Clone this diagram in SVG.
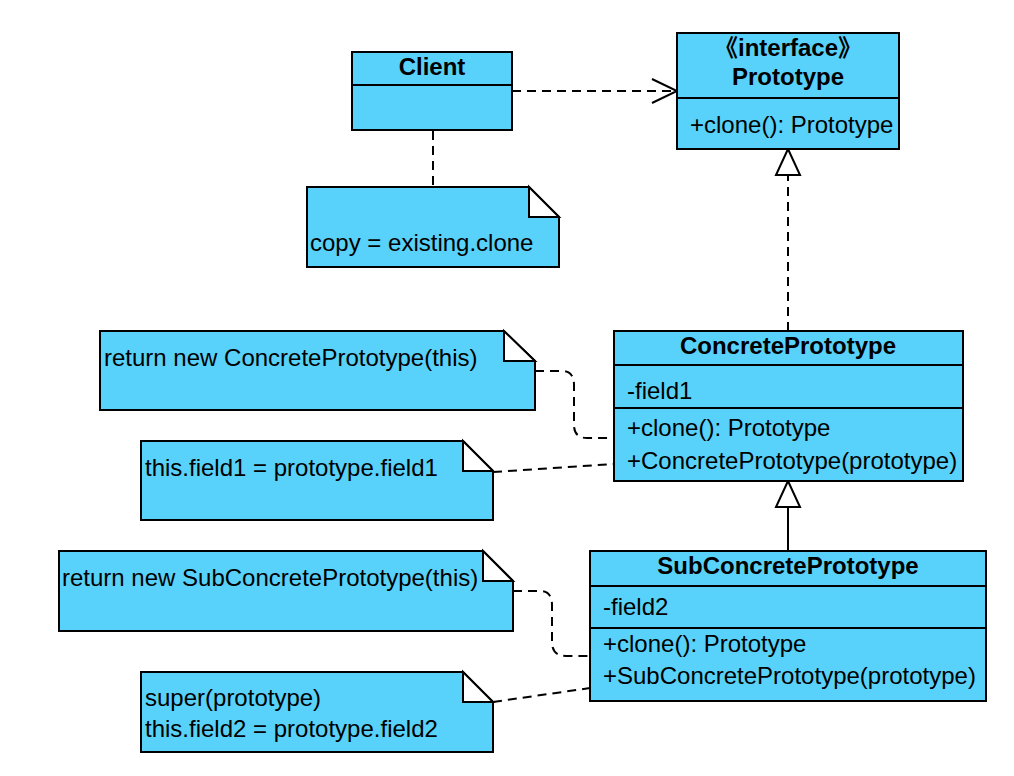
<svg xmlns="http://www.w3.org/2000/svg" width="1014" height="776" viewBox="0 0 1014 776">
<style>
.box{fill:#58d2fa;stroke:#000;stroke-width:2}
.fold{fill:#fff;stroke:#000;stroke-width:2;stroke-linejoin:miter}
.t{font-family:"Liberation Sans",Arial,"Noto Sans CJK SC",sans-serif;font-size:24px;fill:#000}
.b{font-weight:bold}
.c{text-anchor:middle}
.dash{fill:none;stroke:#000;stroke-width:2;stroke-dasharray:9 6}
.solid{fill:none;stroke:#000;stroke-width:2}
.tri{fill:#fff;stroke:#000;stroke-width:2}
</style>
<rect width="1014" height="776" fill="#fff"/>
<g id="connectors">
  <path class="dash" d="M512 91 H677"/>
  <path class="solid" d="M652 79 L677 91 L652 103"/>
  <path class="dash" d="M433 131 V186"/>
  <path class="dash" d="M788 331 V175"/>
  <path class="tri" d="M788 149 L800 175 L776 175 Z"/>
  <path class="solid" d="M788 551 V507"/>
  <path class="tri" d="M788 481 L800 507 L776 507 Z"/>
  <path class="dash" d="M535 371 H562 Q574 371 574 385 V425 Q574 438 587 438 H613"/>
  <path class="dash" d="M493 472 L613 464"/>
  <path class="dash" d="M513 591 H540 Q552 591 552 605 V642 Q552 656 566 656 H590"/>
  <path class="dash" d="M493 702 L590 688"/>
</g>
<g id="client">
  <rect class="box" x="352" y="52" width="160" height="78"/>
  <line x1="352" y1="85" x2="512" y2="85" stroke="#000" stroke-width="2"/>
  <text class="t b c" x="432" y="75">Client</text>
</g>
<g id="prototype">
  <rect class="box" x="677" y="33" width="222" height="116"/>
  <line x1="677" y1="98" x2="899" y2="98" stroke="#000" stroke-width="2"/>
  <text class="t b c" x="788" y="56">《interface》</text>
  <text class="t b c" x="788" y="85">Prototype</text>
  <text class="t" x="690" y="133">+clone(): Prototype</text>
</g>
<g id="client-note">
  <path class="box" d="M307 187 H529 L559 217 V267 H307 Z"/>
  <path class="fold" d="M529 187 V217 H559 Z"/>
  <text class="t" x="310" y="251">copy = existing.clone</text>
</g>
<g id="concrete-prototype">
  <rect class="box" x="614" y="331" width="349" height="150"/>
  <line x1="614" y1="365" x2="963" y2="365" stroke="#000" stroke-width="2"/>
  <line x1="614" y1="408" x2="963" y2="408" stroke="#000" stroke-width="2"/>
  <text class="t b c" x="788" y="354">ConcretePrototype</text>
  <text class="t" x="627" y="399">-field1</text>
  <text class="t" x="627" y="436">+clone(): Prototype</text>
  <text class="t" x="627" y="469">+ConcretePrototype(prototype)</text>
</g>
<g id="note-concrete-clone">
  <path class="box" d="M100 331 H504 L535 361 V410 H100 Z"/>
  <path class="fold" d="M504 331 V361 H535 Z"/>
  <text class="t" x="104" y="366">return new ConcretePrototype(this)</text>
</g>
<g id="note-concrete-ctor">
  <path class="box" d="M141 441 H463 L493 471 V520 H141 Z"/>
  <path class="fold" d="M463 441 V471 H493 Z"/>
  <text class="t" x="145" y="476">this.field1 = prototype.field1</text>
</g>
<g id="sub-concrete-prototype">
  <rect class="box" x="590" y="551" width="396" height="150"/>
  <line x1="590" y1="586" x2="986" y2="586" stroke="#000" stroke-width="2"/>
  <line x1="590" y1="628" x2="986" y2="628" stroke="#000" stroke-width="2"/>
  <text class="t b c" x="788" y="574">SubConcretePrototype</text>
  <text class="t" x="603" y="615">-field2</text>
  <text class="t" x="603" y="652">+clone(): Prototype</text>
  <text class="t" x="603" y="684">+SubConcretePrototype(prototype)</text>
</g>
<g id="note-sub-clone">
  <path class="box" d="M59 551 H483 L513 581 V631 H59 Z"/>
  <path class="fold" d="M483 551 V581 H513 Z"/>
  <text class="t" x="62" y="586">return new SubConcretePrototype(this)</text>
</g>
<g id="note-sub-ctor">
  <path class="box" d="M141 672 H463 L493 702 V752 H141 Z"/>
  <path class="fold" d="M463 672 V702 H493 Z"/>
  <text class="t" x="145" y="706">super(prototype)</text>
  <text class="t" x="145" y="737">this.field2 = prototype.field2</text>
</g>
</svg>
